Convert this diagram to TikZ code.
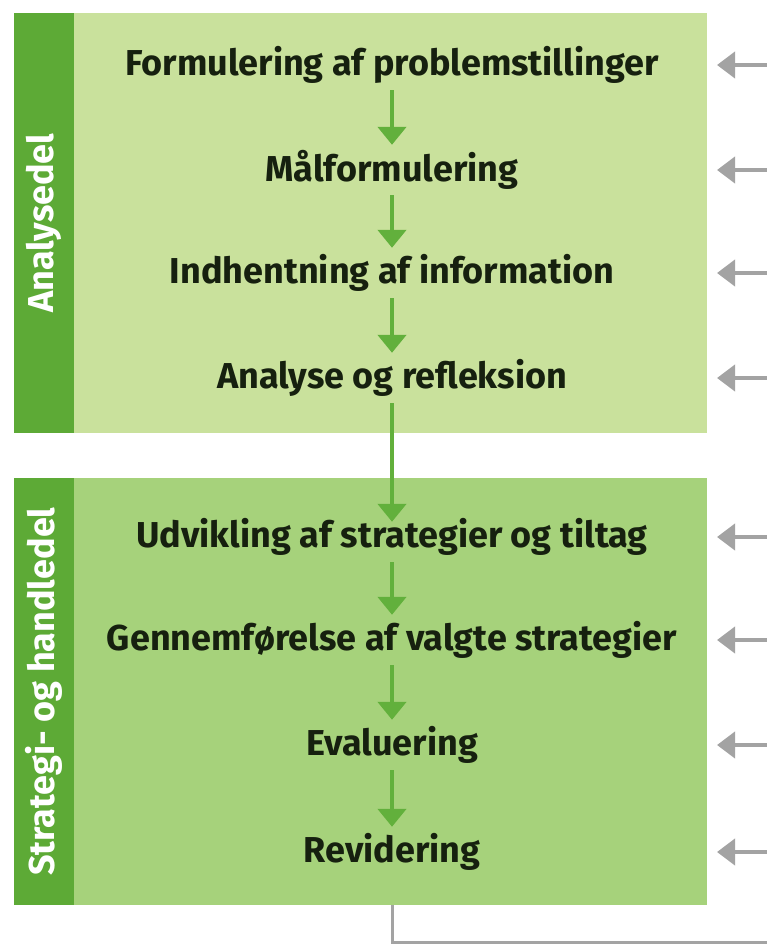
\documentclass[tikz,border=0pt]{standalone}
\usepackage{fontspec}
\setmainfont{Fira Sans}
\usetikzlibrary{arrows.meta}
\definecolor{barGreen}{HTML}{5DAA36}
\definecolor{topFill}{HTML}{C9E19C}
\definecolor{botFill}{HTML}{A6D27B}
\definecolor{arrGreen}{HTML}{62B03C}
\definecolor{arrGray}{HTML}{A3A3A3}
\definecolor{txt}{HTML}{16200F}
\begin{document}
\begin{tikzpicture}[x=1pt,y=-1pt,
  panel/.style={draw=none,minimum width=693pt,inner sep=0pt,anchor=north west},
  sidebar/.style={fill=barGreen,minimum width=60pt,inner sep=0pt,anchor=north west},
  barlabel/.style={text=white,rotate=90,font=\fontsize{36}{36}\selectfont\bfseries},
  stepnode/.style={inner sep=0pt,minimum height=50pt,text=txt,font=\fontsize{36}{36}\selectfont\bfseries},
  flow/.style={draw=arrGreen,line width=4.5pt,-{Triangle[width=28pt,length=18pt]}},
  feed/.style={draw=arrGray,line width=4pt,-{Triangle[width=26pt,length=18pt]}},
  loopline/.style={draw=arrGray,line width=3pt}]
\useasboundingbox (0,0) rectangle (767,947);
% panels
\node[panel,fill=topFill,minimum height=420pt] (top) at (14,13) {};
\node[sidebar,minimum height=420pt] (topbar) at (14,13) {};
\node[panel,fill=botFill,minimum height=427pt] (bot) at (14,478) {};
\node[sidebar,minimum height=427pt] (botbar) at (14,478) {};
\node[barlabel] (l1) at (topbar.center) {Analysedel};
\node[barlabel] (l2) at (botbar.center) {Strategi- og handledel};
% steps
\node[stepnode] (s1) at (392,65) {Formulering af problemstillinger};
\node[stepnode] (s2) at (392,170) {Målformulering};
\node[stepnode] (s3) at (392,273) {Indhentning af information};
\node[stepnode] (s4) at (392,378) {Analyse og refleksion};
\node[stepnode] (s5) at (392,537) {Udvikling af strategier og tiltag};
\node[stepnode] (s6) at (392,640) {Gennemførelse af valgte strategier};
\node[stepnode] (s7) at (392,745) {Evaluering};
\node[stepnode] (s8) at (392,852) {Revidering};
% green arrows
\draw[flow] (s1.south) -- (s2.north);
\draw[flow] (s2.south) -- (s3.north);
\draw[flow] (s3.south) -- (s4.north);
\draw[flow] (s4.south) -- ([yshift=-10pt]s5.north);
\draw[flow] (s5.south) -- (s6.north);
\draw[flow] (s6.south) -- (s7.north);
\draw[flow] (s7.south) -- (s8.north);
% gray feedback arrows
\foreach \i/\y in {1/65,2/170,3/273,4/378,5/537,6/640,7/745,8/852}{
  \coordinate (fa\i) at (767,\y);
  \coordinate (fb\i) at (717,\y);
  \draw[feed] (fa\i) -- (fb\i);
}
% bottom loop line
\coordinate (lb) at (392,905);
\coordinate (lc) at (392,942);
\coordinate (ld) at (767,942);
\draw[loopline] (lb) -- (lc) -- (ld);
\end{tikzpicture}
\end{document}
